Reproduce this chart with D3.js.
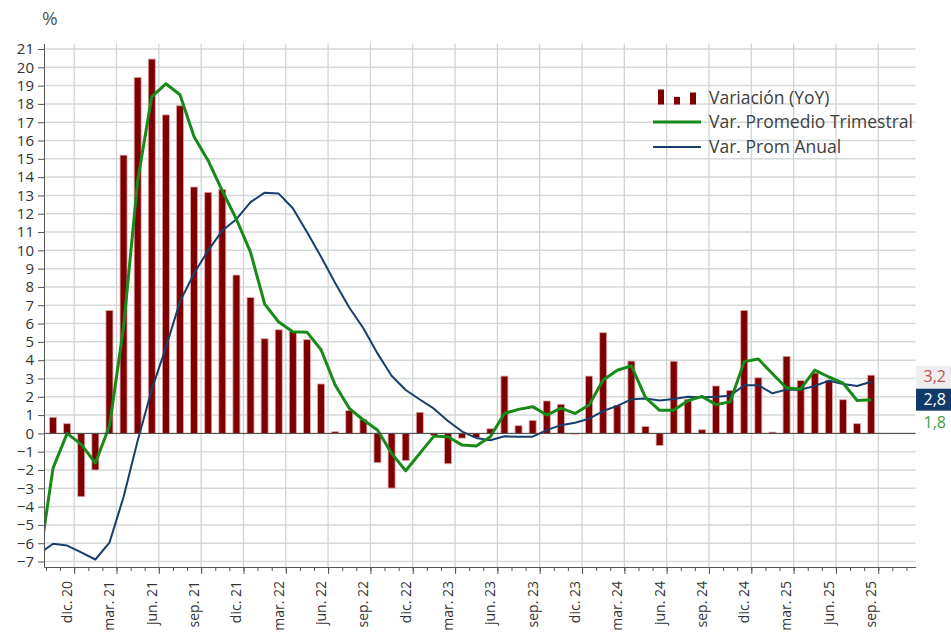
<!DOCTYPE html>
<html>
<head>
<meta charset="utf-8">
<script src="https://cdn.jsdelivr.net/npm/d3@7"></script>
<style>
  body { margin: 0; background: #fff; }
  svg { display: block; font-family: "Open Sans", "Noto Sans", sans-serif; }
</style>
</head>
<body>
<svg width="951" height="633"></svg>
<script>
// meses (oct. 20 queda fuera del eje, solo sirve para el inicio de las lineas)
var meses = [
  "oct. 20", "nov. 20", "dic. 20",
  "ene. 21", "feb. 21", "mar. 21", "abr. 21", "may. 21", "jun. 21", "jul. 21", "ago. 21", "sep. 21", "oct. 21", "nov. 21", "dic. 21",
  "ene. 22", "feb. 22", "mar. 22", "abr. 22", "may. 22", "jun. 22", "jul. 22", "ago. 22", "sep. 22", "oct. 22", "nov. 22", "dic. 22",
  "ene. 23", "feb. 23", "mar. 23", "abr. 23", "may. 23", "jun. 23", "jul. 23", "ago. 23", "sep. 23", "oct. 23", "nov. 23", "dic. 23",
  "ene. 24", "feb. 24", "mar. 24", "abr. 24", "may. 24", "jun. 24", "jul. 24", "ago. 24", "sep. 24", "oct. 24", "nov. 24", "dic. 24",
  "ene. 25", "feb. 25", "mar. 25", "abr. 25", "may. 25", "jun. 25", "jul. 25", "ago. 25", "sep. 25"
]

var variacionYoY = [
  null, 0.88, 0.53,
  -3.46, -2.0, 6.72, 15.2, 19.45, 20.45, 17.4, 17.9, 13.46, 13.17, 13.33, 8.65,
  7.42, 5.17, 5.66, 5.57, 5.12, 2.7, 0.09, 1.25, 0.77, -1.6, -2.99, -1.48,
  1.15, -0.12, -1.66, -0.26, -0.22, 0.25, 3.13, 0.42, 0.71, 1.77, 1.59, -0.04,
  3.13, 5.5, 1.54, 3.95, 0.38, -0.66, 3.94, 1.86, 0.2, 2.59, 2.35, 6.72,
  3.04, 0.07, 4.21, 2.88, 3.3, 2.9, 1.84, 0.53, 3.18
]

var promTrimestral = [
  -7.15, -1.9, 0.0,
  -0.6, -1.62, 0.4, 5.8, 13.8, 18.4, 19.1, 18.5, 16.2, 14.9, 13.25, 11.7,
  9.9, 7.07, 6.08, 5.55, 5.53, 4.57, 2.64, 1.37, 0.73, 0.18, -1.09, -2.04,
  -1.09, -0.15, -0.18, -0.64, -0.69, -0.18, 1.09, 1.31, 1.46, 1.0, 1.38, 1.09,
  1.55, 2.92, 3.45, 3.69, 1.95, 1.26, 1.26, 1.78, 2.02, 1.57, 1.73, 3.92,
  4.06, 3.26, 2.48, 2.43, 3.46, 3.08, 2.75, 1.80, 1.84
]

var promAnual = [
  -6.59, -6.03, -6.13,
  -6.5, -6.89, -5.97, -3.48, -0.4, 2.4, 4.7, 7.2, 8.75, 10.0, 11.08, 11.7,
  12.63, 13.15, 13.1, 12.3, 11.0, 9.65, 8.22, 6.88, 5.74, 4.37, 3.15, 2.37,
  1.85, 1.35, 0.68, 0.1, -0.25, -0.38, -0.16, -0.18, -0.18, 0.18, 0.45, 0.58,
  0.8, 1.22, 1.5, 1.86, 1.91, 1.8, 1.88, 2.0, 1.97, 2.0, 2.06, 2.63,
  2.63, 2.19, 2.39, 2.39, 2.59, 2.88, 2.7, 2.59, 2.82
]

var yTicks = d3.range(-7, 22)
var mesesEtiqueta = ["dic.", "mar.", "jun.", "sep."]

var colores = { yoy: "#7f0000", trimestral: "#178a17", anual: "#173f6e" }

function dibujar () {
  var svg = d3.select("svg")
  var pIzq = 44, pDer = 915.5, pArriba = 43.5, pAbajo = 567

  var x = d3.scaleLinear().domain([0.36, 62.14]).range([pIzq, pDer])
  var y = d3.scaleLinear().domain([-7.3, 21.3]).range([pAbajo, pArriba])

  svg.append("defs").append("clipPath").attr("id", "plot")
    .append("rect").attr("x", pIzq).attr("y", pArriba).attr("width", pDer - pIzq).attr("height", pAbajo - pArriba)

  // limites entre meses
  var limites = d3.range(0.5, 62.14, 1)
  var limitesMayores = meses.map(function (m, i) { return i })
    .filter(function (i) { return mesesEtiqueta.indexOf(meses[i].slice(0, 4)) >= 0 })
    .map(function (i) { return i + 0.5 })

  // grilla
  var grid = svg.append("g")
  grid.selectAll("line.h").data(yTicks).enter().append("line")
    .attr("x1", pIzq).attr("x2", pDer)
    .attr("y1", function (d) { return y(d) }).attr("y2", function (d) { return y(d) })
    .attr("stroke", "#d5d9d9").attr("stroke-width", 1.5)
  grid.selectAll("line.v").data(limitesMayores).enter().append("line")
    .attr("x1", function (d) { return x(d) }).attr("x2", function (d) { return x(d) })
    .attr("y1", pArriba).attr("y2", pAbajo)
    .attr("stroke", "#cdd2d2").attr("stroke-width", 1.2)

  var plot = svg.append("g").attr("clip-path", "url(#plot)")

  // barras
  plot.selectAll("rect.bar")
    .data(variacionYoY.map(function (v, i) { return { i: i, v: v } }).filter(function (d) { return d.v !== null }))
    .enter().append("rect")
    .attr("x", function (d) { return x(d.i) - 3.5 })
    .attr("width", 7)
    .attr("y", function (d) { return y(Math.max(0, d.v)) })
    .attr("height", function (d) { return Math.abs(y(d.v) - y(0)) })
    .attr("fill", colores.yoy)
    .attr("stroke", "#dfa9a9").attr("stroke-width", 0.8)

  // linea del cero
  svg.append("line")
    .attr("x1", pIzq).attr("x2", pDer).attr("y1", y(0)).attr("y2", y(0))
    .attr("stroke", "#444").attr("stroke-width", 1)

  var linea = d3.line()
    .x(function (d, i) { return x(i) })
    .y(function (d) { return y(d) })

  plot.append("path").datum(promAnual)
    .attr("d", linea).attr("fill", "none")
    .attr("stroke", colores.anual).attr("stroke-width", 2).attr("stroke-linejoin", "round")

  plot.append("path").datum(promTrimestral)
    .attr("d", linea).attr("fill", "none")
    .attr("stroke", colores.trimestral).attr("stroke-width", 3).attr("stroke-linejoin", "round")

  // eje y
  var yAxis = svg.append("g")
    .attr("transform", "translate(" + pIzq + ",0)")
    .call(d3.axisLeft(y).tickValues(yTicks).tickSize(6).tickSizeOuter(0).tickPadding(4))
  yAxis.select(".domain").attr("stroke", "#555")
  yAxis.selectAll(".tick line").attr("stroke", "#555")
  yAxis.selectAll("text").attr("font-size", 15).attr("fill", "#333")
    .attr("font-family", "'Open Sans', sans-serif")

  svg.append("text").attr("x", 42).attr("y", 25)
    .attr("font-size", 19).attr("fill", "#555").text("%")

  // eje x
  var xMenor = svg.append("g")
    .attr("transform", "translate(0," + pAbajo + ")")
    .call(d3.axisBottom(x).tickValues(limites).tickSize(4).tickSizeOuter(0).tickFormat(""))
  xMenor.select(".domain").attr("stroke", "#555")
  xMenor.selectAll(".tick line").attr("stroke", "#555")

  var xMayor = svg.append("g")
    .attr("transform", "translate(0," + pAbajo + ")")
    .call(d3.axisBottom(x).tickValues(limitesMayores).tickSize(7).tickSizeOuter(0).tickFormat(""))
  xMayor.select(".domain").remove()
  xMayor.selectAll(".tick line").attr("stroke", "#555")

  var etiquetas = meses.map(function (m, i) { return { i: i, m: m } })
    .filter(function (d) { return d.i > 0 && mesesEtiqueta.indexOf(d.m.slice(0, 4)) >= 0 })

  svg.append("g").selectAll("text").data(etiquetas).enter().append("text")
    .attr("transform", function (d) { return "translate(" + x(d.i) + "," + (pAbajo + 14) + ") rotate(-90)" })
    .attr("text-anchor", "end")
    .attr("dy", "0.35em")
    .attr("font-size", 14).attr("fill", "#333")
    .text(function (d) { return d.m })

  // leyenda
  var leyenda = svg.append("g").attr("font-size", 17.5).attr("fill", "#404040")
  var iconos = [15, 7.6, 12]
  leyenda.selectAll("rect").data(iconos).enter().append("rect")
    .attr("x", function (d, i) { return 658 + i * 16 })
    .attr("y", function (d) { return 104.5 - d })
    .attr("width", 6).attr("height", function (d) { return d })
    .attr("fill", colores.yoy)
  leyenda.append("text").attr("x", 709).attr("y", 103.5).text("Variación (YoY)")
  leyenda.append("line").attr("x1", 653).attr("x2", 701).attr("y1", 122).attr("y2", 122)
    .attr("stroke", colores.trimestral).attr("stroke-width", 3)
  leyenda.append("text").attr("x", 709).attr("y", 128).text("Var. Promedio Trimestral")
  leyenda.append("line").attr("x1", 653).attr("x2", 701).attr("y1", 147).attr("y2", 147)
    .attr("stroke", colores.anual).attr("stroke-width", 2)
  leyenda.append("text").attr("x", 709).attr("y", 153).text("Var. Prom Anual")

  // ultimos valores a la derecha
  var coma = function (v) { return d3.format(".1f")(v).replace(".", ",") }
  var ultimos = [
    { v: variacionYoY[variacionYoY.length - 1], fondo: "#eeeeee", texto: "#c0504d" },
    { v: promAnual[promAnual.length - 1], fondo: "#0f3a69", texto: "#ffffff" },
    { v: promTrimestral[promTrimestral.length - 1], fondo: "none", texto: "#3ca33c" }
  ].sort(function (a, b) { return b.v - a.v })

  var previo = -Infinity
  ultimos.forEach(function (d) {
    d.cy = Math.max(y(d.v) + 1.5, previo + 23)
    previo = d.cy
  })

  var marcas = svg.append("g").selectAll("g").data(ultimos).enter().append("g")
  marcas.append("rect")
    .attr("x", 916).attr("width", 35)
    .attr("y", function (d) { return d.cy - 11 }).attr("height", 22)
    .attr("fill", function (d) { return d.fondo })
  marcas.append("text")
    .attr("x", 946).attr("y", function (d) { return d.cy })
    .attr("dy", "0.35em").attr("text-anchor", "end")
    .attr("font-size", 16)
    .attr("fill", function (d) { return d.texto })
    .text(function (d) { return coma(d.v) })
}

dibujar()
</script>
</body>
</html>
